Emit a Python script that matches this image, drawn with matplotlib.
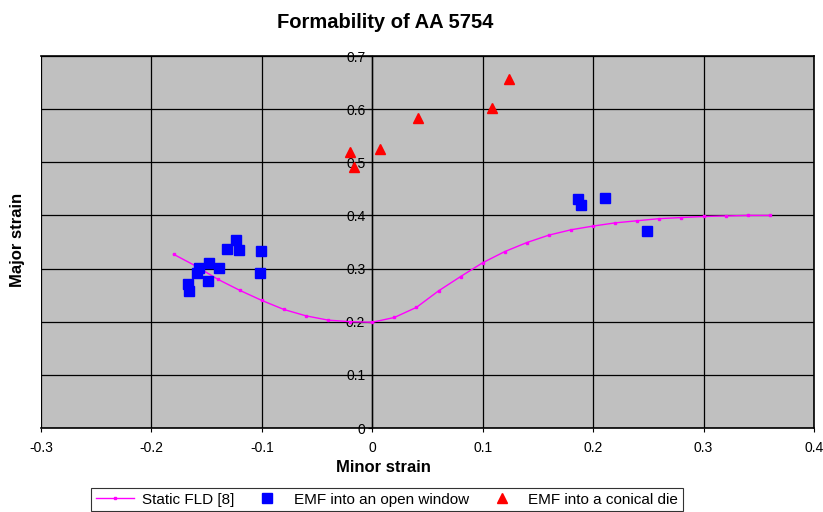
import matplotlib
matplotlib.use('Agg')
import matplotlib.pyplot as plt

plt.rcParams['font.family'] = ['Liberation Sans', 'DejaVu Sans']

# static FLD curve [8]
fld_x = [-0.18, -0.16, -0.14, -0.12, -0.10, -0.08, -0.06, -0.04, -0.02, 0.0,
         0.02, 0.04, 0.06, 0.08, 0.10, 0.12, 0.14, 0.16, 0.18, 0.20,
         0.22, 0.24, 0.26, 0.28, 0.30, 0.32, 0.34, 0.36]
fld_y = [0.327, 0.305, 0.280, 0.259, 0.240, 0.223, 0.211, 0.203, 0.200, 0.199,
         0.208, 0.227, 0.258, 0.285, 0.311, 0.332, 0.349, 0.363, 0.373, 0.380,
         0.386, 0.390, 0.394, 0.396, 0.398, 0.399, 0.400, 0.400]

# EMF into an open window
win_x = [-0.123, -0.132, -0.121, -0.101, -0.148, -0.157, -0.139, -0.159,
         -0.102, -0.149, -0.167, -0.166, 0.186, 0.189, 0.211, 0.249]
win_y = [0.353, 0.336, 0.335, 0.334, 0.311, 0.301, 0.301, 0.291,
         0.292, 0.276, 0.271, 0.257, 0.430, 0.419, 0.433, 0.370]

# EMF into a conical die
die_x = [-0.020, -0.017, 0.007, 0.041, 0.108, 0.124]
die_y = [0.520, 0.492, 0.525, 0.583, 0.602, 0.656]

xticks = [-0.3, -0.2, -0.1, 0, 0.1, 0.2, 0.3, 0.4]
xtick_labels = ['-0.3', '-0.2', '-0.1', '0', '0.1', '0.2', '0.3', '0.4']
yticks = [0, 0.1, 0.2, 0.3, 0.4, 0.5, 0.6, 0.7]
ytick_labels = ['0', '0.1', '0.2', '0.3', '0.4', '0.5', '0.6', '0.7']

fig = plt.figure(figsize=(8.23, 5.12), dpi=100)
ax = fig.add_axes([41/823, 1-428/512, (814-41)/823, (428-56)/512])
ax.set_facecolor('#c0c0c0')

ax.plot(fld_x, fld_y, color='#ff00ff', lw=1, marker='s', markersize=2,
        label='Static FLD [8]', zorder=3)
ax.plot(win_x, win_y, ls='none', marker='s', markersize=6.5, color='#0000ff',
        label='EMF into an open window', zorder=4)
ax.plot(die_x, die_y, ls='none', marker='^', markersize=7, color='#ff0000',
        label='EMF into a conical die', zorder=4)

ax.set_xlim(-0.3, 0.4)
ax.set_ylim(0, 0.7)
ax.set_xticks(xticks)
ax.set_xticklabels(xtick_labels)
ax.set_yticks(yticks)
ax.set_yticklabels(ytick_labels)
ax.grid(True, color='black', lw=0.9)
ax.set_axisbelow(True)

# y axis crosses at x = 0
ax.spines['left'].set_position(('data', 0))
ax.spines['left'].set_linewidth(1)
for s in ['top', 'right', 'bottom']:
    ax.spines[s].set_color('black')
    ax.spines[s].set_linewidth(1.2)
ax.axvline(-0.3, color='black', lw=1.2, zorder=5)

ax.tick_params(axis='both', labelsize=10, length=3, direction='out', colors='black')
ax.tick_params(axis='y', pad=2)
ax.tick_params(axis='x', pad=6)

fig.text(385/823, 1-22/512, 'Formability of AA 5754', ha='center', va='center',
         fontsize=14.5, fontweight='bold')
fig.text(383/823, 1-467/512, 'Minor strain', ha='center', va='center',
         fontsize=12, fontweight='bold')
fig.text(18/823, 1-240/512, 'Major strain', ha='center', va='center',
         fontsize=12, fontweight='bold', rotation=90)

leg = fig.legend(loc='upper center', bbox_to_anchor=(387/823, 1-488/512), ncol=3,
                 fontsize=11, frameon=True, fancybox=False, edgecolor='black',
                 handlelength=2.5, handletextpad=0.5, columnspacing=0.9,
                 borderpad=0.3, borderaxespad=0, markerscale=1.0)
leg.get_frame().set_linewidth(0.8)

fig.savefig('out.png', dpi=100)
